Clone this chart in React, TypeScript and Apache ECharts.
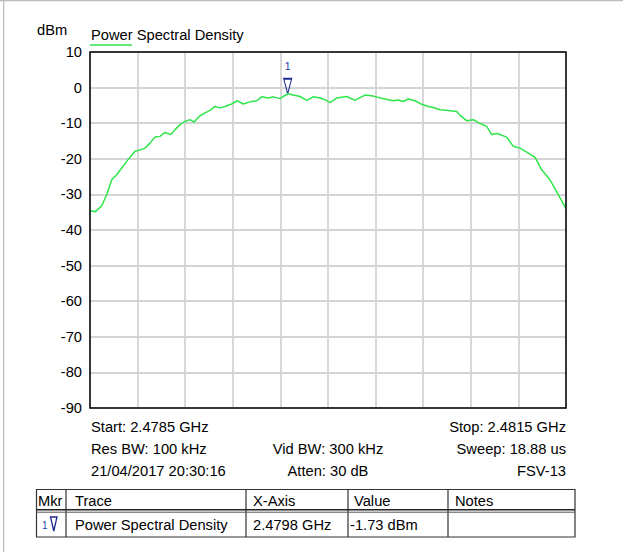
import React, { useEffect, useRef } from "react";
import * as echarts from "echarts";

// ---- data ----
// frequency offset from start (kHz), span 2.4785 GHz .. 2.4815 GHz
const freqOffsetKHz = [
  0, 32, 74, 105, 137, 168, 200, 242, 284, 315, 347, 378, 410, 441, 473, 510,
  536, 567, 599, 630, 655, 693, 725, 756, 788, 819, 851, 893, 928, 966, 1008,
  1051, 1082, 1124, 1155, 1197, 1246, 1281, 1324, 1366, 1407, 1450, 1481, 1513,
  1555, 1618, 1670, 1702, 1733, 1775, 1803, 1838, 1880, 1912, 1943, 1975, 2006,
  2048, 2091, 2132, 2164, 2206, 2258, 2311, 2332, 2374, 2416, 2458, 2500, 2532,
  2567, 2626, 2668, 2710, 2762, 2805, 2847, 2899, 2941, 3000,
];
const levelDbm = [
  -34.5, -34.9, -33.2, -30.1, -25.9, -24.5, -22.6, -20.1, -17.9, -17.5, -17.0,
  -15.6, -13.9, -13.7, -12.6, -13.2, -11.8, -10.4, -9.5, -9.0, -9.7, -7.9, -7.1,
  -6.4, -5.3, -5.7, -5.3, -4.6, -3.7, -4.6, -4.0, -3.7, -2.6, -2.9, -2.6, -3.1,
  -1.73, -2.1, -2.5, -3.6, -2.6, -2.9, -3.4, -4.2, -2.9, -2.5, -3.6, -2.8, -2.1,
  -2.3, -2.6, -3.0, -3.4, -3.7, -3.5, -3.9, -3.2, -3.7, -4.7, -5.3, -5.6, -6.2,
  -6.4, -6.7, -7.8, -9.3, -9.0, -10.1, -10.9, -13.2, -12.9, -13.9, -16.5, -17.0,
  -18.4, -19.6, -23.1, -25.9, -29.2, -34.0,
];
const markerFreqKHz = 1246;
const markerLevel = -1.73;

const yMin = -90;
const yMax = 10;
const yStep = 10;
const xSpanKHz = 3000;
const xStepKHz = 300;

const unitLabel = "dBm";
const traceName = "Power Spectral Density";
const infoLeft = ["Start: 2.4785 GHz", "Res BW: 100 kHz", "21/04/2017 20:30:16"];
const infoCenter = ["", "Vid BW: 300 kHz", "Atten: 30 dB"];
const infoRight = ["Stop: 2.4815 GHz", "Sweep: 18.88 us", "FSV-13"];
const tableHeader = ["Mkr", "Trace", "X-Axis", "Value", "Notes"];
const tableRow = ["1", traceName, "2.4798 GHz", "-1.73 dBm", ""];

const FONT = "'Liberation Sans', Arial, Helvetica, sans-serif";
const GREEN = "#2ee64a";
const NAVY = "#1d2a8f";

export default function App() {
  const ref = useRef<HTMLDivElement>(null);

  useEffect(() => {
    if (!ref.current) return;
    const chart = echarts.init(ref.current, null, { renderer: "svg" });

    const gl = 90, gt = 52, gw = 476, gh = 356;
    const fs = 14.7;
    const txt = (x: number, y: number, s: string, align = "left", extra: any = {}) => ({
      type: "text",
      x,
      y,
      z: 50,
      style: {
        text: s,
        fill: "#000",
        font: `${fs}px ${FONT}`,
        textAlign: align,
        textVerticalAlign: "middle",
        ...extra,
      },
    });
    const line = (x1: number, y1: number, x2: number, y2: number, stroke: string, lineWidth: number) => ({
      type: "line",
      z: 50,
      shape: { x1, y1, x2, y2 },
      style: { stroke, lineWidth },
    });

    const infoY = [426.7, 449.3, 471];
    const graphics: any[] = [
      line(0, 0.5, 623, 0.5, "#bdbdbd", 1.3),
      line(3.6, 0, 3.6, 552, "#bdbdbd", 1.3),
      txt(37, 29.5, unitLabel),
      txt(91, 34.5, traceName),
      line(90, 45, 132, 45, GREEN, 1.5),
      {
        type: "rect",
        z: 60,
        shape: { x: gl, y: gt, width: gw, height: gh },
        style: { fill: "none", stroke: "#000", lineWidth: 1.5 },
      },
    ];
    infoLeft.forEach((s, i) => s && graphics.push(txt(91, infoY[i], s, "left")));
    infoCenter.forEach((s, i) => s && graphics.push(txt(gl + gw / 2, infoY[i], s, "center")));
    infoRight.forEach((s, i) => s && graphics.push(txt(gl + gw, infoY[i], s, "right")));

    // table
    const tL = 36.5, tR = 575, tT = 489.5, tB = 537;
    const cols = [tL, 66, 246, 348, 448, tR];
    graphics.push({
      type: "rect",
      z: 50,
      shape: { x: tL, y: tT, width: tR - tL, height: tB - tT },
      style: { fill: "none", stroke: "#333", lineWidth: 1.2 },
    });
    cols.slice(1, 5).forEach((c) => graphics.push(line(c, tT, c, tB, "#333", 1.2)));
    graphics.push(line(tL, 509.8, tR, 509.8, "#222", 1.5));
    graphics.push(line(tL, 512.2, tR, 512.2, "#555", 1));
    const headX = [38, 75, 253, 354, 455];
    tableHeader.forEach((s, i) => graphics.push(txt(headX[i], 500.5, s)));
    const rowX = [42, 75, 253, 350, 455];
    tableRow.forEach((s, i) => {
      if (!s) return;
      if (i === 0) {
        graphics.push(txt(rowX[i], 525, s, "left", { fill: "#2a3cb0", font: `10px ${FONT}` }));
      } else {
        graphics.push(txt(rowX[i], 524.5, s));
      }
    });
    graphics.push({
      type: "polygon",
      z: 50,
      shape: { points: [[50.5, 517], [57, 517], [53.75, 531]] },
      style: { fill: "none", stroke: NAVY, lineWidth: 1.3 },
    });

    const data = freqOffsetKHz.map((f, i) => [f, levelDbm[i]]);

    chart.setOption({
      animation: false,
      backgroundColor: "#fff",
      grid: { left: gl, top: gt, width: gw, height: gh, containLabel: false },
      xAxis: {
        type: "value",
        min: 0,
        max: xSpanKHz,
        interval: xStepKHz,
        axisLine: { show: false },
        axisTick: { show: false },
        axisLabel: { show: false },
        splitLine: { show: true, lineStyle: { color: "#d4d4d4", width: 1.8 } },
      },
      yAxis: {
        type: "value",
        min: yMin,
        max: yMax,
        interval: yStep,
        axisLine: { show: false },
        axisTick: { show: false },
        axisLabel: {
          show: true,
          color: "#000",
          fontSize: fs,
          fontFamily: FONT,
          margin: 8,
        },
        splitLine: { show: true, lineStyle: { color: "#d4d4d4", width: 1.8 } },
      },
      series: [
        {
          type: "line",
          name: traceName,
          data,
          showSymbol: false,
          symbol: "none",
          lineStyle: { color: GREEN, width: 1.5 },
          z: 10,
          markPoint: {
            symbol: "path://M0,0L8,0L4,15Z",
            symbolSize: [8, 15],
            symbolOffset: [0, "-50%"],
            itemStyle: { color: "rgba(255,255,255,0)", borderColor: NAVY, borderWidth: 1.3 },
            label: {
              show: true,
              position: "top",
              distance: 6,
              formatter: "1",
              color: "#2a3cb0",
              fontSize: 10.5,
              fontFamily: FONT,
            },
            data: [{ coord: [markerFreqKHz, markerLevel] }],
          },
        },
      ],
      graphic: graphics,
    });

    return () => chart.dispose();
  }, []);

  return (
    <div
      ref={ref}
      style={{ position: "absolute", left: 0, top: 0, width: 623, height: 552, background: "#fff" }}
    />
  );
}
